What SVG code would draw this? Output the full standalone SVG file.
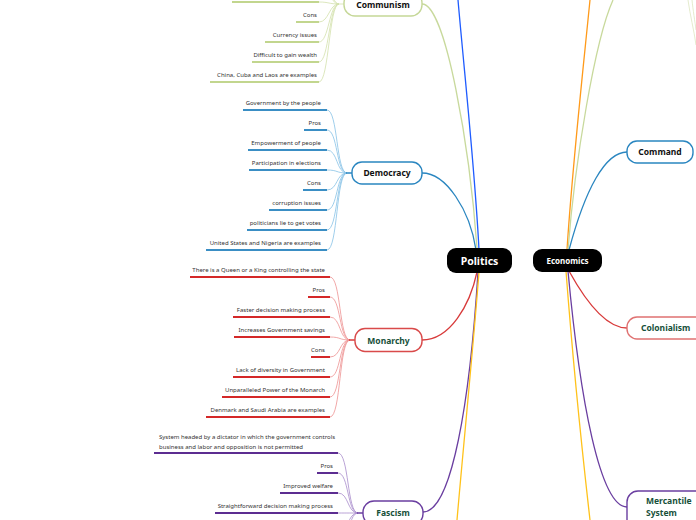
<svg xmlns="http://www.w3.org/2000/svg" width="696" height="520" viewBox="0 0 696 520">
<style>
.t{font-family:"Noto Sans","Open Sans","DejaVu Sans",sans-serif;font-size:6px;fill:#333;text-anchor:end}
.nl{font-family:"Noto Sans","Open Sans","DejaVu Sans",sans-serif;font-weight:bold;font-size:8.5px;text-anchor:middle}
.blk{fill:#111}
.grn{fill:#17503a}
.wh{fill:#fff}
.c{fill:none}
.ul{fill:none;stroke-width:2}
.cc{fill:none;stroke-width:0.8}
.main{fill:none;stroke-width:1.3}
.node{fill:#fff;stroke-width:1.4}
</style>
<g id="connectors">
  <!-- Politics main branches -->
  <path class="main" stroke="#c8d99c" d="M422,4 C446,4 470,150 477,248"/>
  <path class="main" stroke="#1f5cff" stroke-width="1.6" d="M479,250 C475,170 465,80 458,0"/>
  <path class="main" stroke="#2a86c0" d="M422,173 C446,173 470,210 476,250"/>
  <path class="main" stroke="#d83a3a" d="M422,340 C450,340 470,305 477,272"/>
  <path class="main" stroke="#6a3ea0" d="M423,512 C452,512 470,400 478,272"/>
  <path class="main" stroke="#ffc21a" stroke-width="1.6" d="M479,272 C473,350 463,450 457,520"/>
  <!-- Economics main branches -->
  <path class="main" stroke="#ff9a1a" stroke-width="1.6" d="M567,250 C572,170 582,80 590,0"/>
  <path class="main" stroke="#c8d99c" d="M568,250 C575,160 595,40 613,0"/>
  <path class="main" stroke="#2a86c0" d="M569,250 C585,190 605,152 627,152"/>
  <path class="main" stroke="#d83a3a" d="M569,271 C585,300 605,328 627,328"/>
  <path class="main" stroke="#6a3ea0" d="M568,271 C580,400 600,507 627,507"/>
  <path class="main" stroke="#ffc21a" stroke-width="1.6" d="M566,271 C572,350 582,450 590,520"/>
  <!-- top-right faint -->
  <path class="cc" stroke="#dde6c0" d="M688,0 C690,15 694,30 696,45"/>
  <path class="cc" stroke="#dde6c0" d="M692,0 C693,10 695,22 696,30"/>

  <!-- Communism children -->
  <g stroke="#d3e1ac">
    <path class="cc" d="M319,-38 C329,-38 329,4 339,4 L344,4"/>
    <path class="cc" d="M319,-18 C329,-18 329,4 339,4"/>
    <path class="cc" d="M319,2 C329,2 329,4 339,4"/>
    <path class="cc" d="M319,22 C329,22 329,4 339,4"/>
    <path class="cc" d="M319,42 C329,42 329,4 339,4"/>
    <path class="cc" d="M319,62 C329,62 329,4 339,4"/>
    <path class="cc" d="M319,82 C329,82 329,4 339,4"/>
  </g>
  <g stroke="#c2d68e">
    <path class="ul" d="M232,2 H319"/>
    <path class="ul" d="M296,22 H319"/>
    <path class="ul" d="M265,42 H319"/>
    <path class="ul" d="M252,62 H319"/>
    <path class="ul" d="M210,82 H319"/>
  </g>

  <!-- Democracy children -->
  <g stroke="#86c1e6">
    <path class="cc" d="M327,110 C338,110 336,173 347,173"/>
    <path class="cc" d="M327,130 C338,130 336,173 347,173"/>
    <path class="cc" d="M327,150 C338,150 336,173 347,173"/>
    <path class="cc" d="M327,170 C338,170 336,173 347,173"/>
    <path class="cc" d="M327,190 C338,190 336,173 347,173"/>
    <path class="cc" d="M327,210 C338,210 336,173 347,173"/>
    <path class="cc" d="M327,230 C338,230 336,173 347,173"/>
    <path class="cc" d="M327,250 C338,250 336,173 347,173"/>
  </g>
  <path stroke="#2a86c0" stroke-width="1.5" d="M346,173 H352"/>
  <g stroke="#3a8ec4">
    <path class="ul" d="M243,110 H327"/>
    <path class="ul" d="M304,130 H327"/>
    <path class="ul" d="M248,150 H327"/>
    <path class="ul" d="M249,170 H327"/>
    <path class="ul" d="M303,190 H327"/>
    <path class="ul" d="M269,210 H327"/>
    <path class="ul" d="M247,230 H327"/>
    <path class="ul" d="M206,250 H327"/>
  </g>

  <!-- Monarchy children -->
  <g stroke="#ee9292">
    <path class="cc" d="M330,277 C341,277 339,340 350,340"/>
    <path class="cc" d="M330,297 C341,297 339,340 350,340"/>
    <path class="cc" d="M330,317 C341,317 339,340 350,340"/>
    <path class="cc" d="M330,337 C341,337 339,340 350,340"/>
    <path class="cc" d="M330,357 C341,357 339,340 350,340"/>
    <path class="cc" d="M330,377 C341,377 339,340 350,340"/>
    <path class="cc" d="M330,397 C341,397 339,340 350,340"/>
    <path class="cc" d="M330,417 C341,417 339,340 350,340"/>
  </g>
  <path stroke="#d83a3a" stroke-width="1.5" d="M349,340 H355"/>
  <g stroke="#d42828">
    <path class="ul" d="M190,277 H330"/>
    <path class="ul" d="M308,297 H330"/>
    <path class="ul" d="M233,317 H330"/>
    <path class="ul" d="M234,337 H330"/>
    <path class="ul" d="M311,357 H330"/>
    <path class="ul" d="M233,377 H330"/>
    <path class="ul" d="M222,397 H330"/>
    <path class="ul" d="M206,417 H330"/>
  </g>

  <!-- Fascism children -->
  <g stroke="#a88bcc">
    <path class="cc" d="M338,453 C349,453 347,513 358,513"/>
    <path class="cc" d="M338,473 C349,473 347,513 358,513"/>
    <path class="cc" d="M338,493 C349,493 347,513 358,513"/>
    <path class="cc" d="M338,513 C349,513 347,513 358,513"/>
    <path class="cc" d="M338,533 C349,533 347,513 358,513"/>
    <path class="cc" d="M338,553 C349,553 347,513 358,513"/>
  </g>
  <path stroke="#6a3ea0" stroke-width="1.5" d="M357,513 H363"/>
  <g stroke="#5c2d91">
    <path class="ul" d="M154,453 H338"/>
    <path class="ul" d="M317,473 H338"/>
    <path class="ul" d="M280,493 H338"/>
    <path class="ul" d="M215,513 H338"/>
  </g>
</g>

<g id="communism-children">
  <text class="t" x="317" y="17">Cons</text>
  <text class="t" x="317" y="37">Currency issues</text>
  <text class="t" x="317" y="57">Difficult to gain wealth</text>
  <text class="t" x="317" y="77">China, Cuba and Laos are examples</text>
</g>
<g id="democracy-children">
  <text class="t" x="321" y="104.5">Government by the people</text>
  <text class="t" x="321" y="124.5">Pros</text>
  <text class="t" x="321" y="144.5">Empowerment of people</text>
  <text class="t" x="321" y="164.5">Participation in elections</text>
  <text class="t" x="321" y="184.5">Cons</text>
  <text class="t" x="321" y="204.5">corruption issues</text>
  <text class="t" x="321" y="224.5">politicians lie to get votes</text>
  <text class="t" x="321" y="244.5">United States and Nigeria are examples</text>
</g>
<g id="monarchy-children">
  <text class="t" x="325" y="272">There is a Queen or a King controlling the state</text>
  <text class="t" x="325" y="292">Pros</text>
  <text class="t" x="325" y="312">Faster decision making process</text>
  <text class="t" x="325" y="332">Increases Government savings</text>
  <text class="t" x="325" y="352">Cons</text>
  <text class="t" x="325" y="372">Lack of diversity in Government</text>
  <text class="t" x="325" y="392">Unparalleled Power of the Monarch</text>
  <text class="t" x="325" y="412">Denmark and Saudi Arabia are examples</text>
</g>
<g id="fascism-children">
  <text class="t" x="159" y="438.5" style="text-anchor:start">System headed by a dictator in which the government controls</text>
  <text class="t" x="159" y="448.5" style="text-anchor:start">business and labor and opposition is not permitted</text>
  <text class="t" x="333" y="468">Pros</text>
  <text class="t" x="333" y="488">Improved welfare</text>
  <text class="t" x="333" y="508">Straightforward decision making process</text>
</g>

<g id="communism">
  <rect class="node" stroke="#c5d797" x="344" y="-8" width="78" height="24" rx="11"/>
  <text class="nl blk" x="383" y="7.5">Communism</text>
</g>
<g id="democracy">
  <rect class="node" stroke="#2a86c0" x="352" y="162" width="70" height="22" rx="10"/>
  <text class="nl blk" x="387" y="176">Democracy</text>
</g>
<g id="monarchy">
  <rect class="node" stroke="#d94a4a" x="355" y="328.5" width="67" height="23" rx="10"/>
  <text class="nl grn" x="388.5" y="343.5">Monarchy</text>
</g>
<g id="fascism">
  <rect class="node" stroke="#6a3ea0" x="363" y="501" width="60" height="24" rx="11"/>
  <text class="nl grn" x="393" y="515.5">Fascism</text>
</g>
<g id="politics">
  <rect x="447" y="248" width="65" height="25" rx="9" fill="#000"/>
  <text class="nl wh" x="479.5" y="264.5" style="font-size:10.5px">Politics</text>
</g>
<g id="economics">
  <rect x="533" y="249" width="69" height="23" rx="9" fill="#000"/>
  <text class="nl wh" x="567.5" y="263.5" style="font-size:8px">Economics</text>
</g>
<g id="command">
  <rect class="node" stroke="#2a86c0" x="627" y="141" width="66" height="22" rx="10"/>
  <text class="nl blk" x="660" y="155">Command</text>
</g>
<g id="colonialism">
  <rect class="node" stroke="#e07272" x="627" y="317" width="80" height="22" rx="10"/>
  <text class="nl grn" x="641" y="331" style="text-anchor:start">Colonialism</text>
</g>
<g id="mercantile-system">
  <rect class="node" stroke="#6a3ea0" x="627" y="491" width="80" height="40" rx="11"/>
  <text class="nl grn" x="646" y="504" style="text-anchor:start">Mercantile</text>
  <text class="nl grn" x="646" y="515.5" style="text-anchor:start">System</text>
</g>
</svg>
